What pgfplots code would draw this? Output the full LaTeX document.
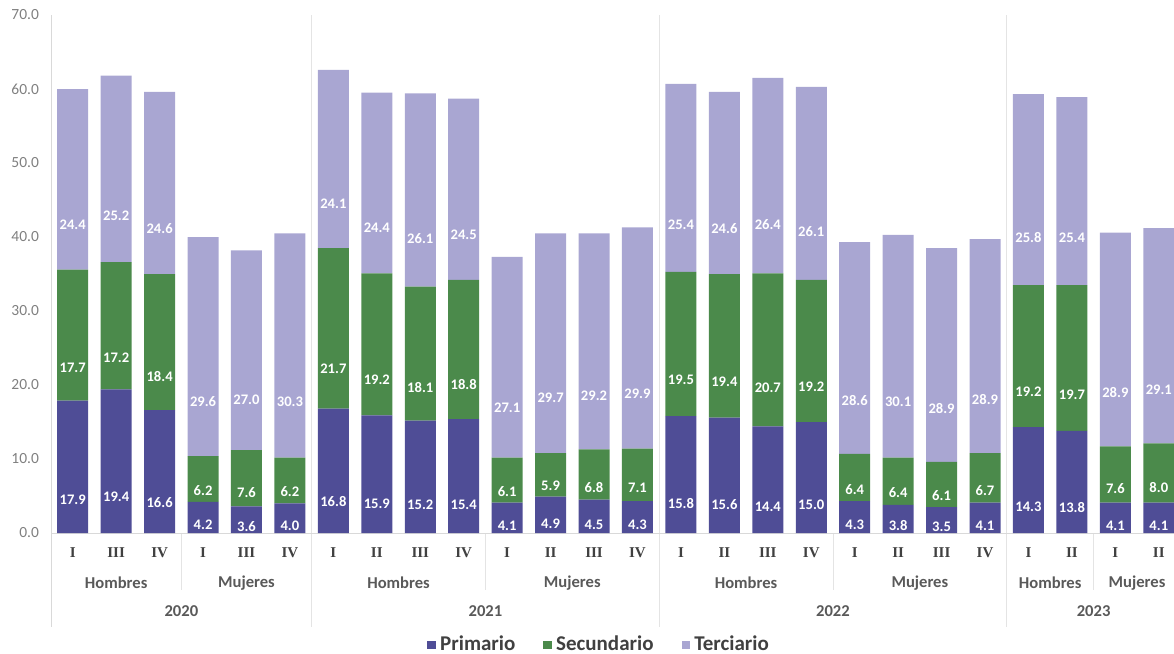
\documentclass[border=0pt]{standalone}
\usepackage{fontspec}
\setmainfont{Carlito}
\newfontfamily\romanfont{Liberation Serif}
\usepackage{pgfplots}
\usepackage{pgfplotstable}
\pgfplotsset{compat=1.18}
\definecolor{cP}{HTML}{4F4D96}
\definecolor{cS}{HTML}{4B8A4B}
\definecolor{cT}{HTML}{A9A6D2}
\definecolor{txtgray}{HTML}{595959}
\definecolor{ticgray}{HTML}{808080}
\definecolor{linegray}{HTML}{D9D9D9}

\pgfplotstableread{
x p s t
0 17.9 17.7 24.4
1 19.4 17.2 25.2
2 16.6 18.4 24.6
3 4.2 6.2 29.6
4 3.6 7.6 27.0
5 4.0 6.2 30.3
6 16.8 21.7 24.1
7 15.9 19.2 24.4
8 15.2 18.1 26.1
9 15.4 18.8 24.5
10 4.1 6.1 27.1
11 4.9 5.9 29.7
12 4.5 6.8 29.2
13 4.3 7.1 29.9
14 15.8 19.5 25.4
15 15.6 19.4 24.6
16 14.4 20.7 26.4
17 15.0 19.2 26.1
18 4.3 6.4 28.6
19 3.8 6.4 30.1
20 3.5 6.1 28.9
21 4.1 6.7 28.9
22 14.3 19.2 25.8
23 13.8 19.7 25.4
24 4.1 7.6 28.9
25 4.1 8.0 29.1
}\data

\pgfplotsset{
  seglabel/.style={
    nodes near coords={\pgfmathprintnumber{\pgfplotspointmeta}},
    point meta=explicit,
    visualization depends on={rawy \as \segval},
    every node near coord/.append style={anchor=center, yshift=-\segval*0.925pt,
      text=white, font=\bfseries\fontsize{7.3}{8}\selectfont, inner sep=0pt}
  }
}

\begin{document}
\begin{tikzpicture}
\path[use as bounding box] (-25.5pt,-60.5pt) rectangle (561.5pt,266.5pt);
\begin{axis}[
  at={(0,0)}, anchor=south west,
  scale only axis,
  width=561.5pt, height=259pt,
  ybar stacked, bar width=15.5pt,
  xmin=-0.5, xmax=25.35,
  ymin=0, ymax=70,
  ytick={0,10,...,70},
  xtick={0,...,25},
  xticklabels={I,III,IV,I,III,IV,I,II,III,IV,I,II,III,IV,I,II,III,IV,I,II,III,IV,I,II,I,II},
  x tick label style={font=\romanfont\bfseries\fontsize{7.5}{8}\selectfont, text=black!75, anchor=center, yshift=-10pt},
  y tick label style={font=\fontsize{7.75}{9}\selectfont, text=ticgray, xshift=-2.5pt},
  major tick length=0pt,
  axis line style={draw=none},
  clip=false,
  legend columns=3,
  legend style={at={(axis description cs:0.489,0)}, anchor=center, yshift=-56pt,
    draw=none, fill=none, font=\bfseries\fontsize{10.5}{12}\selectfont, text=black!75,
    /tikz/every even column/.append style={column sep=12pt}},
  /pgf/number format/assume math mode=true,
  /pgf/number format/.cd, fixed, fixed zerofill, precision=1
]
\addplot[fill=cP, draw=none, seglabel, legend image code/.code={\fill[cP] (0pt,-2.2pt) rectangle (4.4pt,2.2pt);}] table[x=x, y=p, meta=p] {\data};
\addplot[fill=cS, draw=none, seglabel, legend image code/.code={\fill[cS] (0pt,-2.2pt) rectangle (4.4pt,2.2pt);}] table[x=x, y=s, meta=s] {\data};
\addplot[fill=cT, draw=none, seglabel, legend image code/.code={\fill[cT] (0pt,-2.2pt) rectangle (4.4pt,2.2pt);}] table[x=x, y=t, meta=t] {\data};
\legend{Primario, Secundario, Terciario}

% axis lines and separators
\draw[linegray] (axis cs:-0.5,0) -- (axis cs:25.35,0);
\draw[linegray] (axis cs:-0.5,70) -- ([yshift=-47pt]axis cs:-0.5,0);
\draw[linegray!70] (axis cs:5.5,70) -- ([yshift=-47pt]axis cs:5.5,0);
\draw[linegray!70] (axis cs:13.5,70) -- ([yshift=-47pt]axis cs:13.5,0);
\draw[linegray!70] (axis cs:21.5,70) -- ([yshift=-47pt]axis cs:21.5,0);
\draw[linegray!70] (axis cs:2.5,0) -- ([yshift=-28.5pt]axis cs:2.5,0);
\draw[linegray!70] (axis cs:9.5,0) -- ([yshift=-28.5pt]axis cs:9.5,0);
\draw[linegray!70] (axis cs:17.5,0) -- ([yshift=-28.5pt]axis cs:17.5,0);
\draw[linegray!70] (axis cs:23.5,0) -- ([yshift=-28.5pt]axis cs:23.5,0);
% group labels
\pgfplotsinvokeforeach{1,7.5,15.5,22.5}{
  \node[font=\bfseries\fontsize{8.3}{10}\selectfont, text=txtgray] at ([yshift=-25pt]axis cs:#1,0) {Hombres};
}
\pgfplotsinvokeforeach{4,11.5,19.5,24.5}{
  \node[font=\bfseries\fontsize{8.3}{10}\selectfont, text=txtgray] at ([yshift=-25pt]axis cs:#1,0) {Mujeres};
}
\node[font=\bfseries\fontsize{8.3}{10}\selectfont, text=txtgray] at ([yshift=-39pt]axis cs:2.5,0) {2020};
\node[font=\bfseries\fontsize{8.3}{10}\selectfont, text=txtgray] at ([yshift=-39pt]axis cs:9.5,0) {2021};
\node[font=\bfseries\fontsize{8.3}{10}\selectfont, text=txtgray] at ([yshift=-39pt]axis cs:17.5,0) {2022};
\node[font=\bfseries\fontsize{8.3}{10}\selectfont, text=txtgray] at ([yshift=-39pt]axis cs:23.5,0) {2023};
\end{axis}
\end{tikzpicture}
\end{document}
